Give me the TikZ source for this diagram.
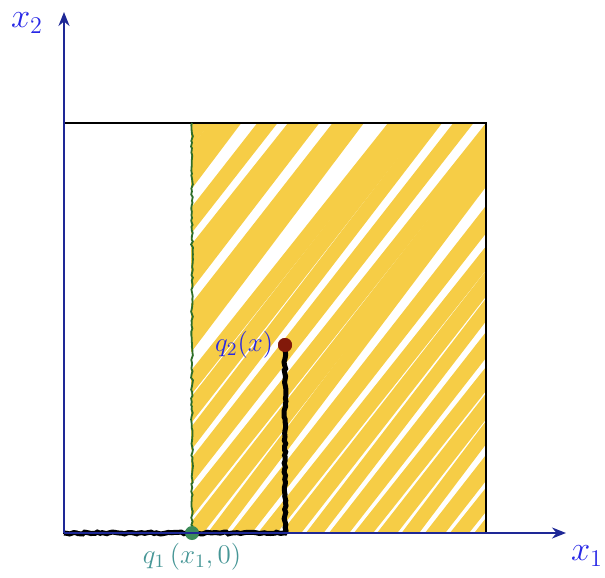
\documentclass[tikz,border=0pt]{standalone}
\usepackage{fix-cm}
\usepackage{amsmath}
\usepackage{xcolor}
\usepackage{tikz}
\usetikzlibrary{arrows.meta,positioning,decorations.pathmorphing}

\definecolor{axisblue}{RGB}{30,40,150}
\definecolor{labelblue}{RGB}{40,40,230}
\definecolor{tealtext}{RGB}{70,150,150}
\definecolor{darkgreen}{RGB}{45,110,40}
\definecolor{dotgreen}{RGB}{60,140,90}
\definecolor{dotred}{RGB}{130,25,10}
\definecolor{scribble}{RGB}{246,205,70}

\begin{document}
\begin{tikzpicture}[
    x=0.5pt, y=-0.5pt,
    node distance=3pt,
    axis/.style={draw=axisblue, line width=1pt, -{Stealth[length=7pt,width=5.5pt]}},
    frame/.style={draw=black, line width=1pt},
    rough/.style={decorate, decoration={random steps, segment length=1.5pt, amplitude=0.5pt}},
    path/.style={rough, draw=black, line width=2.5pt},
    cut/.style={rough, draw=darkgreen, line width=0.9pt},
    stroke/.style={draw=scribble, line cap=round},
    dot/.style={circle, inner sep=0pt, minimum size=7pt},
    axlabel/.style={text=labelblue, font=\LARGE, inner sep=0pt},
    ptlabel/.style={font=\fontsize{13.5}{16}\selectfont, inner sep=1pt}
]
\useasboundingbox (0,0) rectangle (605,578);

% Key points
\coordinate (origin) at (64,533);
\coordinate (corner) at (285,533);

% Yellow scribble
\begin{scope}
\clip (191,123) rectangle (486,533);
\foreach \s/\a/\w in {-196/52/8, -172/52.5/7, -148/51.5/8.5, -122/52/7.5, -98/53/8,
    -74/52/8, -50/51.5/7.5, -26/52.5/8, 0/52/7, 24/53/8.5, 50/51.5/7.5, 74/52/8,
    98/52.5/7, 122/52/8, 148/51.5/7.5, 172/52/8, 196/53/7, 220/52/8.5, 246/51.5/7.5,
    270/52/8, 294/52.5/7, 318/52/8, 342/51.5/7.5, 366/52/8, 390/53/7, 414/52/8,
    438/51.5/7.5, 462/52/7, 486/52/6}
    \draw[stroke, line width=\w pt] (\s,560) -- ++(-\a:720);
\end{scope}

% Square
\draw[frame] (origin) rectangle (486,123);

% Cut line at x1
\draw[cut] (192,533) -- (192,123);

% Path from origin
\node[dot, fill=dotred] (qtwo) at (285,345) {};
\draw[path] (origin) -- (corner) -- (qtwo.center);
\node[dot, fill=dotred] at (qtwo) {};
\node[dot, fill=dotgreen] (qone) at (192,533) {};

% Axes
\draw[axis] (origin) -- (566,533);
\draw[axis] (origin) -- (64,12);
\node[axlabel] (xone) at (587,556) {$x_1$};
\node[axlabel] (xtwo) at (27,23) {$x_2$};

% Point labels
\node[ptlabel, text=labelblue, left=1pt of qtwo] (qtwolabel) {$q_2(x)$};
\node[ptlabel, text=tealtext, below=0pt of qone] (qonelabel) {$q_1\,(x_1,0)$};

\end{tikzpicture}
\end{document}
